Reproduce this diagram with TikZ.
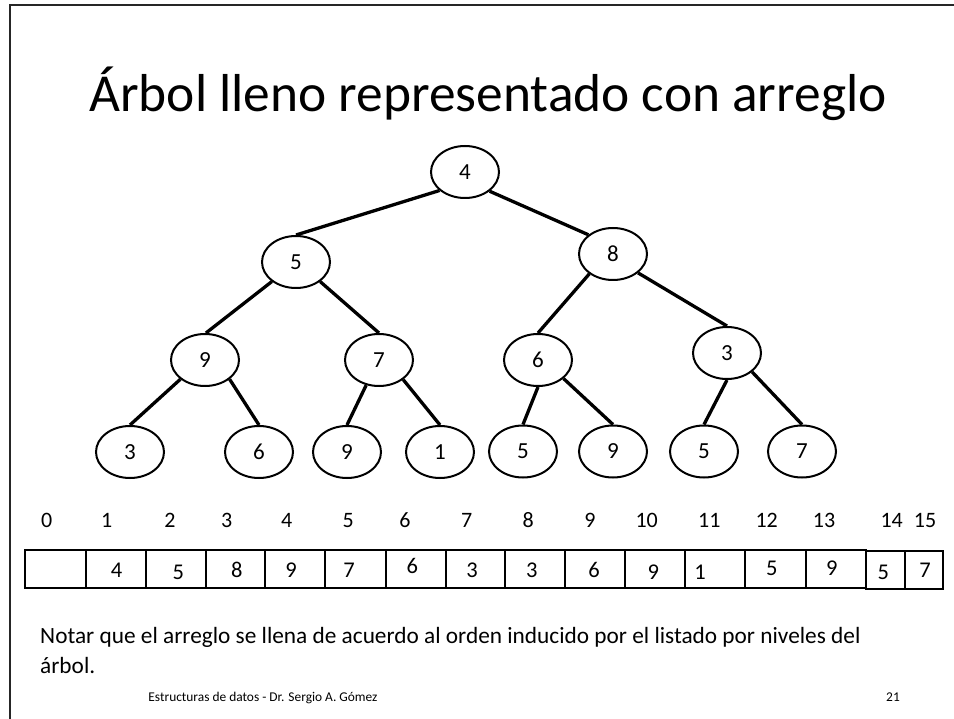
\documentclass[tikz,border=0pt]{standalone}
\usepackage{fontspec}
\setmainfont{Carlito}
\usetikzlibrary{shapes.geometric}
\begin{document}
\begin{tikzpicture}[x=1pt,y=-1pt,
  tn/.style={ellipse,draw,line width=2pt,minimum width=68pt,minimum height=52pt,inner sep=0pt,font=\fontsize{23}{27}\selectfont},
  conn/.style={line width=3.3pt},
  cell/.style={draw,line width=2pt,inner sep=0pt,minimum height=38pt},
  val/.style={inner sep=0pt,font=\fontsize{22.5}{27}\selectfont},
  idx/.style={anchor=base,inner sep=0pt,font=\fontsize{22}{26}\selectfont},
  frame/.style={line width=2pt,color=black!85}]
\useasboundingbox (0,0) rectangle (954,719);
\fill[white] (0,0) rectangle (954,719);
\coordinate (fa) at (954,5);
\coordinate (fb) at (10,5);
\coordinate (fc) at (10,719);
\draw[frame] (fa) -- (fb) -- (fc);

\node[anchor=base,inner sep=0pt,font=\fontsize{53.4}{64}\selectfont] (title) at (488,112) {Árbol lleno representado con arreglo};

% tree
\node[tn] (t1) at (465,172) {4};
\node[tn] (t2) at (296,262) {5};
\node[tn] (t3) at (613,254) {8};
\node[tn] (t4) at (205,360) {9};
\node[tn] (t5) at (379,360) {7};
\node[tn] (t6) at (538,360) {6};
\node[tn] (t7) at (727,353) {3};
\node[tn] (t8) at (130,452) {3};
\node[tn] (t9) at (259,452) {6};
\node[tn] (t10) at (347,452) {9};
\node[tn] (t11) at (440,452) {1};
\node[tn] (t12) at (523,451.5) {5};
\node[tn] (t13) at (613,451.5) {9};
\node[tn] (t14) at (704,451.5) {5};
\node[tn] (t15) at (802,451.5) {7};

\draw[conn] (t1.216) -- (t2.90);
\draw[conn] (t1.322) -- (t3.142);
\draw[conn] (t2.219) -- (t4.88);
\draw[conn] (t2.321) -- (t5.90);
\draw[conn] (t4.218) -- (t8.90);
\draw[conn] (t4.322) -- (t9.90);
\draw[conn] (t5.243) -- (t10.90);
\draw[conn] (t5.321) -- (t11.90);
\draw[conn] (t3.220) -- (t6.90);
\draw[conn] (t3.323) -- (t7.90);
\draw[conn] (t6.270) -- (t12.90);
\draw[conn] (t6.324) -- (t13.90);
\draw[conn] (t7.270) -- (t14.90);
\draw[conn] (t7.323) -- (t15.90);

% indices
\node[idx] (i0) at (46.7,527) {0};
\node[idx] (i1) at (106.7,527) {1};
\node[idx] (i2) at (170,527) {2};
\node[idx] (i3) at (226.7,527) {3};
\node[idx] (i4) at (286.7,527) {4};
\node[idx] (i5) at (348.3,527) {5};
\node[idx] (i6) at (405,527) {6};
\node[idx] (i7) at (466.7,527) {7};
\node[idx] (i8) at (528.3,527) {8};
\node[idx] (i9) at (590,527) {9};
\node[idx] (i10) at (646.7,527) {10};
\node[idx] (i11) at (709.3,527) {11};
\node[idx] (i12) at (766.7,527) {12};
\node[idx] (i13) at (824,527) {13};
\node[idx] (i14) at (891.7,527) {14};
\node[idx] (i15) at (925,527) {15};

% array cells
\node[cell,minimum width=61pt] (c0) at (55.5,569) {};
\node[cell,minimum width=60pt] (c1) at (116,569) {};
\node[cell,minimum width=60pt] (c2) at (176,569) {};
\node[cell,minimum width=59pt] (c3) at (235.5,569) {};
\node[cell,minimum width=60pt] (c4) at (295,569) {};
\node[cell,minimum width=61pt] (c5) at (355.5,569) {};
\node[cell,minimum width=60pt] (c6) at (416,569) {};
\node[cell,minimum width=59pt] (c7) at (475.5,569) {};
\node[cell,minimum width=60pt] (c8) at (535,569) {};
\node[cell,minimum width=60pt] (c9) at (595,569) {};
\node[cell,minimum width=60pt] (c10) at (655,569) {};
\node[cell,minimum width=60pt] (c11) at (715,569) {};
\node[cell,minimum width=61pt] (c12) at (775.5,569) {};
\node[cell,minimum width=60pt] (c13) at (836,569) {};
\node[cell,minimum width=39pt] (c14) at (885.5,569.5) {};
\node[cell,minimum width=38pt] (c15) at (924,569.5) {};

% values
\node[val] (v1) at (116.7,570) {4};
\node[val] (v2) at (178.3,572.5) {5};
\node[val] (v3) at (236.7,570) {8};
\node[val] (v4) at (291,570) {9};
\node[val] (v5) at (349,570) {7};
\node[val] (v6) at (412.3,566) {6};
\node[val] (v7) at (472,570) {3};
\node[val] (v8) at (531.7,570) {3};
\node[val] (v9) at (594,570) {6};
\node[val] (v10) at (653.3,572.5) {9};
\node[val] (v11) at (700,572.5) {1};
\node[val] (v12) at (771.7,568.5) {5};
\node[val] (v13) at (831.7,568.5) {9};
\node[val] (v14) at (883.3,572.5) {5};
\node[val] (v15) at (925,570) {7};

% note and footer
\node[anchor=base west,inner sep=0pt,font=\fontsize{23.3}{30}\selectfont] (note1) at (40,643) {Notar que el arreglo se llena de acuerdo al orden inducido por el listado por niveles del};
\node[anchor=base west,inner sep=0pt,font=\fontsize{23.3}{30}\selectfont] (note2) at (40,673) {árbol.};
\node[anchor=base,inner sep=0pt,font=\fontsize{13.4}{16}\selectfont] (foot) at (263,701) {Estructuras de datos - Dr. Sergio A. Gómez};
\node[anchor=base,inner sep=0pt,font=\fontsize{13.4}{16}\selectfont] (page) at (893,701) {21};
\end{tikzpicture}
\end{document}
